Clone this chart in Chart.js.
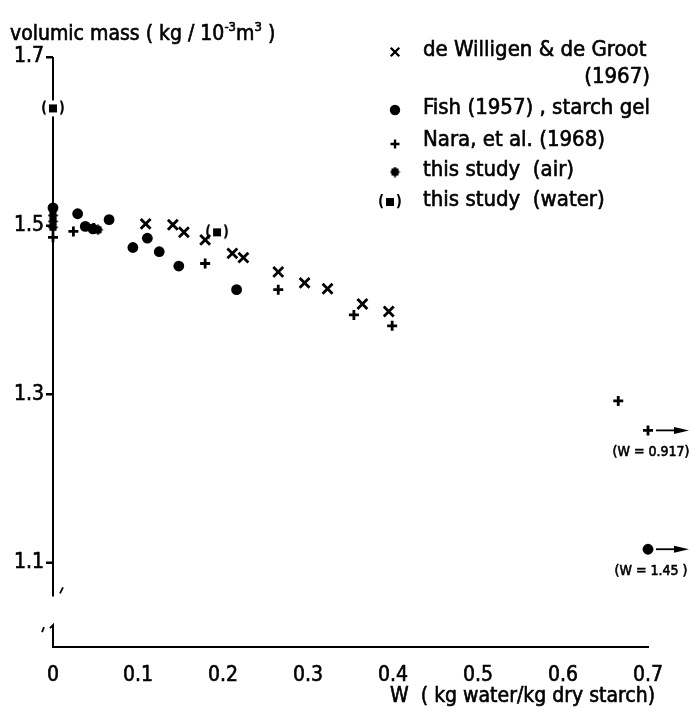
<!DOCTYPE html>
<html>
<head>
<meta charset="utf-8">
<script src="https://cdn.jsdelivr.net/npm/chart.js@4.4.1/dist/chart.umd.min.js"></script>
<style>
  html, body { margin: 0; padding: 0; background: #fff; }
</style>
</head>
<body>
<canvas id="densityChart" width="690" height="712"></canvas>
<script>
// values (W in kg water / kg dry starch, density in kg/10^-3 m^3)
const deWilligenW   = [0.109, 0.141, 0.154, 0.179, 0.211, 0.224, 0.265, 0.296, 0.323, 0.364, 0.395];
const deWilligenRho = [1.502, 1.501, 1.492, 1.483, 1.467, 1.462, 1.445, 1.432, 1.425, 1.407, 1.398];

const fishW   = [0, 0.029, 0.038, 0.047, 0.066, 0.094, 0.111, 0.125, 0.148, 0.216, 1.45];
const fishRho = [1.521, 1.514, 1.499, 1.496, 1.507, 1.474, 1.485, 1.469, 1.452, 1.424, 1.116];

const naraW   = [0, 0.024, 0.048, 0.179, 0.265, 0.354, 0.399, 0.665, 0.917];
const naraRho = [1.486, 1.493, 1.497, 1.455, 1.424, 1.394, 1.381, 1.292, 1.257];

const airW   = [0, 0, 0, 0.053];
const airRho = [1.512, 1.505, 1.498, 1.495];

const waterW   = [0, 0.193];
const waterRho = [1.639, 1.492];

const xTicks = [0, 0.1, 0.2, 0.3, 0.4, 0.5, 0.6, 0.7];
const yTicks = [1.1, 1.3, 1.5, 1.7];

const X_MAX = 0.7;
const FONT = '"DejaVu Sans Condensed", "DejaVu Sans", sans-serif';
const STROKE = 0.6; // thickens the lettering a bit, like the printed figure

// points beyond the axis end are drawn at the edge with an arrow
function toPoints(ws, rhos) {
    return ws.map((w, i) => ({ x: Math.min(w, X_MAX), y: rhos[i], w: w }));
}

function waterMarker() {
    const c = document.createElement('canvas');
    c.width = 26; c.height = 18;
    const g = c.getContext('2d');
    g.fillStyle = '#fff';
    g.fillRect(2, 1, 22, 16);
    g.fillStyle = '#000';
    g.font = 'bold 15px ' + FONT;
    g.textBaseline = 'middle';
    g.textAlign = 'left';
    g.fillText('(', 1, 9);
    g.textAlign = 'right';
    g.fillText(')', 25, 9);
    g.fillRect(9, 5, 8, 8);
    return c;
}

function airMarker() {
    const c = document.createElement('canvas');
    c.width = 11; c.height = 11;
    const g = c.getContext('2d');
    g.fillStyle = '#000';
    g.fillRect(2, 2, 7, 7);
    g.beginPath();
    g.moveTo(5.5, 0); g.lineTo(10.5, 5.5); g.lineTo(5.5, 11); g.lineTo(0.5, 5.5);
    g.closePath();
    g.fill();
    return c;
}

const WATER_IMG = waterMarker();
const AIR_IMG = airMarker();

function text(ctx, t, x, y) {
    ctx.save();
    ctx.fillText(t, x, y);
    ctx.lineWidth = STROKE;
    ctx.strokeText(t, x, y);
    ctx.restore();
}

const decor = {
    id: 'decor',
    beforeDatasetsDraw(chart) {
        const ctx = chart.ctx;
        const y = chart.scales.y;
        const x0 = chart.scales.x.getPixelForValue(0);
        ctx.save();
        ctx.strokeStyle = '#000';
        ctx.lineWidth = 2;
        // broken y axis
        ctx.beginPath();
        ctx.moveTo(x0, y.getPixelForValue(1.7));
        ctx.lineTo(x0, y.getPixelForValue(1.06));
        ctx.moveTo(x0 - 3, y.getPixelForValue(1.026) + 3);
        ctx.lineTo(x0, y.getPixelForValue(1.026));
        ctx.lineTo(x0, y.getPixelForValue(1.0));
        ctx.stroke();
        // break marks
        ctx.lineWidth = 1.8;
        ctx.beginPath();
        ctx.moveTo(x0 + 7, y.getPixelForValue(1.06) - 3);
        ctx.lineTo(x0 + 10, y.getPixelForValue(1.06) - 9);
        ctx.moveTo(x0 - 11, y.getPixelForValue(1.02) + 2);
        ctx.lineTo(x0 - 9, y.getPixelForValue(1.02) - 3);
        ctx.stroke();
        ctx.restore();
    },
    afterDraw(chart) {
        const ctx = chart.ctx;
        const xs = chart.scales.x, ys = chart.scales.y;
        const H = Chart.helpers;
        const x0 = xs.getPixelForValue(0);
        ctx.save();
        ctx.fillStyle = '#000';
        ctx.strokeStyle = '#000';

        // y tick marks
        ctx.lineWidth = 2;
        ctx.beginPath();
        yTicks.forEach(v => {
            const py = Math.round(ys.getPixelForValue(v));
            ctx.moveTo(x0 - 7, py);
            ctx.lineTo(x0, py);
        });
        ctx.stroke();

        // y title with superscripts
        ctx.textBaseline = 'alphabetic';
        ctx.textAlign = 'left';
        let tx = 10;
        const big = '21px ' + FONT, small = '13px ' + FONT;
        const parts = [['volumic mass ( kg / 10', big, 0], ['-3', small, -9], ['m', big, 0], ['3', small, -9], [' )', big, 0]];
        parts.forEach(([t, f, dy]) => {
            ctx.font = f;
            text(ctx, t, tx, 40 + dy);
            tx += ctx.measureText(t).width;
        });

        // x title
        ctx.font = '21px ' + FONT;
        ctx.textAlign = 'right';
        text(ctx, 'W  ( kg water/kg dry starch)', 655, 702);

        // legend
        const legend = [
            { style: 'crossRot', r: 6, y: 52, text: 'de Willigen & de Groot', ty: 56 },
            { style: 'circle', r: 4, y: 110, text: 'Fish (1957) , starch gel', ty: 114 },
            { style: 'cross', r: 4.5, y: 144, text: 'Nara, et al. (1968)', ty: 146 },
            { style: AIR_IMG, r: 5, y: 172, text: 'this study  (air)', ty: 176 },
            { style: WATER_IMG, r: 8, y: 202, text: 'this study  (water)', ty: 206, lx: 390 }
        ];
        legend.forEach(item => {
            ctx.lineWidth = 2.4;
            H.drawPoint(ctx, { pointStyle: item.style, radius: item.r, borderWidth: 2.4, rotation: 0 }, item.lx || 395, item.y);
            ctx.fillStyle = '#000';
            ctx.font = '22px ' + FONT;
            ctx.textAlign = 'left';
            text(ctx, item.text, 423, item.ty);
        });
        ctx.textAlign = 'right';
        text(ctx, '(1967)', 650, 83);

        // arrows for values beyond the axis
        const offscale = [[naraW, naraRho], [fishW, fishRho]];
        offscale.forEach(([ws, rhos]) => {
            ws.forEach((w, i) => {
                if (w <= X_MAX) return;
                const px = xs.getPixelForValue(X_MAX), py = ys.getPixelForValue(rhos[i]);
                ctx.lineWidth = 1.8;
                ctx.beginPath();
                ctx.moveTo(px + 8, py);
                ctx.lineTo(680, py);
                ctx.stroke();
                ctx.beginPath();
                ctx.moveTo(689, py);
                ctx.lineTo(674, py - 3.5);
                ctx.lineTo(674, py + 3.5);
                ctx.closePath();
                ctx.fill();
                ctx.font = '14px ' + FONT;
                ctx.textAlign = 'center';
                text(ctx, '(W = ' + String(w) + (String(w).length < 5 ? ' )' : ')'), 651, py + 26);
            });
        });
        ctx.restore();
    }
};

function createDensityChart() {
    const ctx = document.getElementById('densityChart').getContext('2d');
    new Chart(ctx, {
        type: 'scatter',
        data: {
            datasets: [
                {
                    label: 'de Willigen & de Groot (1967)',
                    data: toPoints(deWilligenW, deWilligenRho),
                    pointStyle: 'crossRot', pointRadius: 7, borderWidth: 2.8,
                    borderColor: '#000', backgroundColor: '#000', clip: false
                },
                {
                    label: 'Fish (1957), starch gel',
                    data: toPoints(fishW, fishRho),
                    pointStyle: 'circle', pointRadius: 5.4, borderWidth: 0,
                    borderColor: '#000', backgroundColor: '#000', clip: false
                },
                {
                    label: 'Nara, et al. (1968)',
                    data: toPoints(naraW, naraRho),
                    pointStyle: 'cross', pointRadius: 5, borderWidth: 2.8,
                    borderColor: '#000', backgroundColor: '#000', clip: false
                },
                {
                    label: 'this study (air)',
                    data: toPoints(airW, airRho),
                    pointStyle: AIR_IMG,
                    borderColor: '#000', backgroundColor: '#000', clip: false
                },
                {
                    label: 'this study (water)',
                    data: toPoints(waterW, waterRho),
                    pointStyle: WATER_IMG,
                    borderColor: '#000', backgroundColor: '#000', clip: false
                }
            ]
        },
        options: {
            responsive: false,
            animation: false,
            devicePixelRatio: 1,
            layout: { padding: { top: 57, right: 42, left: 0, bottom: 0 } },
            plugins: {
                legend: { display: false },
                tooltip: { enabled: false }
            },
            scales: {
                x: {
                    type: 'linear',
                    min: 0,
                    max: X_MAX,
                    afterBuildTicks: scale => { scale.ticks = xTicks.map(v => ({ value: v })); },
                    afterFit: scale => { scale.height = 65; },
                    ticks: {
                        color: '#000',
                        font: { family: FONT, size: 21 },
                        textStrokeColor: '#000',
                        textStrokeWidth: STROKE,
                        padding: 8,
                        maxRotation: 0,
                        callback: v => (v === 0 ? '0' : v.toFixed(1))
                    },
                    grid: { display: false },
                    border: { display: true, color: '#000', width: 2 }
                },
                y: {
                    type: 'linear',
                    min: 1.0,
                    max: 1.7,
                    afterBuildTicks: scale => { scale.ticks = yTicks.map(v => ({ value: v })); },
                    afterFit: scale => { scale.width = 53; },
                    ticks: {
                        color: '#000',
                        font: { family: FONT, size: 21 },
                        textStrokeColor: '#000',
                        textStrokeWidth: STROKE,
                        padding: 2,
                        callback: v => v.toFixed(1)
                    },
                    grid: { display: true, drawOnChartArea: false, tickLength: 7, tickWidth: 2, tickColor: '#000', color: '#000' },
                    border: { display: false }
                }
            }
        },
        plugins: [decor]
    });
}

document.addEventListener('DOMContentLoaded', createDensityChart);
</script>
</body>
</html>
